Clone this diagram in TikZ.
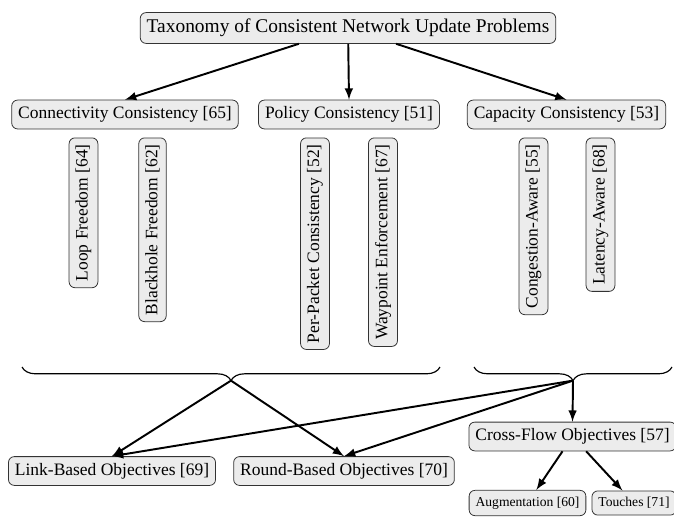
\documentclass[tikz,border=0pt]{standalone}
\usepackage{fontspec}
\setmainfont{Liberation Serif}
\tikzset{>=latex}
\usetikzlibrary{decorations.pathreplacing}
\usetikzlibrary{shapes,positioning}
\tikzset{
  box/.style={draw=black!80, fill=gray!15, rounded corners=3pt, font=\small},
  vbox/.style={box, rotate=90, anchor=east},
  leaf/.style={box, font=\scriptsize},
  link/.style={->, line width=1pt}
}

\begin{document}
\begin{tikzpicture}[x=0.515pt,y=-0.515pt]
        \useasboundingbox (0,0) rectangle (674,517);
        \node[box,font=\normalsize] (title) at (348,28) {Taxonomy of Consistent Network Update Problems};
        \node[box] (conn) at (125,114.5) {Connectivity Consistency [65]};
        \node[box] (policy) at (349,114.5) {Policy Consistency [51]};
        \node[box] (capac) at (566.5,114.5) {Capacity Consistency [53]};
        \node[vbox] (loop) at (83.5,137.5) {Loop Freedom [64]};
        \node[vbox] (black) at (152.5,137.5) {Blackhole Freedom [62]};
        \node[vbox] (perpkt) at (315,137.5) {Per-Packet Consistency [52]};
        \node[vbox] (waypt) at (383,137.5) {Waypoint Enforcement [67]};
        \node[vbox] (cong) at (533.5,137.5) {Congestion-Aware [55]};
        \node[vbox] (laten) at (600.5,137.5) {Latency-Aware [68]};
        \draw[link] (title) -- (conn.north);
        \draw[link] (title) -- (policy.north);
        \draw[link] (title) -- (capac.north);
        \draw[decoration={brace,mirror,amplitude=7pt},decorate,semithick] (22,367)--(440,367);
        \draw[decoration={brace,mirror,amplitude=7pt},decorate,semithick] (474,367)--(672,367);
        \coordinate (ltip) at (231,380.6);
        \coordinate (rtip) at (573,380.6);
        \node[box] (linkb) at (112,471) {Link-Based Objectives [69]};
        \node[box] (roundb) at (344,471) {Round-Based Objectives [70]};
        \node[box] (cross) at (572.5,436.5) {Cross-Flow Objectives [57]};
        \node[leaf] (augm) at (527.5,503) {Augmentation [60]};
        \node[leaf] (touch) at (634,503) {Touches [71]};
        \draw[link] (ltip) -- (linkb.north);
        \draw[link] (ltip) -- (roundb.north);
        \draw[link] (rtip) -- (linkb.north);
        \draw[link] (rtip) -- (roundb.north);
        \draw[link] (rtip) -- (cross.north);
        \draw[link] (cross) -- (augm);
        \draw[link] (cross) -- (touch);
      \end{tikzpicture}
\end{document}
